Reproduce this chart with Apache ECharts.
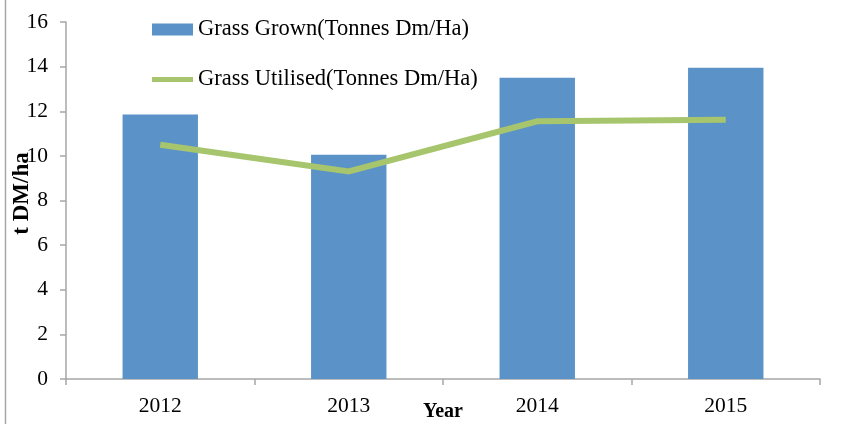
<!DOCTYPE html>
<html>
<head>
<meta charset="utf-8">
<script src="https://cdn.jsdelivr.net/npm/echarts@6/dist/echarts.min.js"></script>
<style>
  html, body { margin: 0; padding: 0; background: #fff; }
  #chart { width: 846px; height: 424px; }
</style>
</head>
<body>
<div id="chart"></div>
<script>
// Yearly grass figures, tonnes of dry matter per hectare
const years = ['2012', '2013', '2014', '2015'];
const grassGrown = [11.85, 10.05, 13.5, 13.95];
const grassUtilised = [10.5, 9.3, 11.55, 11.62];
const yTicks = { min: 0, max: 16, interval: 2 };

const FONT = '"Liberation Serif", "Times New Roman", serif';
const BLUE = '#5b93c8';
const GREEN = '#a6c56c';
const GREY = '#a6a6a6';

const chart = echarts.init(document.getElementById('chart'));
chart.setOption({
  animation: false,
  backgroundColor: '#fff',
  grid: { left: 66, right: 26, top: 22, bottom: 45, containLabel: false, outerBoundsMode: 'none' },
  legend: [
    {
      data: ['Grass Grown(Tonnes Dm/Ha)'],
      left: 147, top: 13,
      icon: 'rect', itemWidth: 41, itemHeight: 12, itemGap: 6,
      textStyle: { fontFamily: FONT, fontSize: 22.5, color: '#000' }
    },
    {
      data: ['Grass Utilised(Tonnes Dm/Ha)'],
      left: 147, top: 63,
      icon: 'rect', itemWidth: 41, itemHeight: 5, itemGap: 6,
      textStyle: { fontFamily: FONT, fontSize: 22.5, color: '#000' }
    }
  ],
  graphic: [
    {
      type: 'line',
      shape: { x1: 5.5, y1: 0, x2: 5.5, y2: 424 },
      style: { stroke: GREY, lineWidth: 1.5 }
    }
  ],
  xAxis: {
    type: 'category',
    data: years,
    boundaryGap: true,
    name: 'Year',
    nameLocation: 'middle',
    nameGap: 23,
    nameMoveOverlap: false,
    nameTextStyle: { fontFamily: FONT, fontSize: 20, fontWeight: 'bold', color: '#000' },
    axisLine: { lineStyle: { color: GREY, width: 1.5 } },
    axisTick: { show: true, length: 6, alignWithLabel: false, lineStyle: { color: GREY, width: 1.5 } },
    axisLabel: { margin: 16, fontFamily: FONT, fontSize: 21.5, color: '#000' }
  },
  yAxis: {
    type: 'value',
    min: yTicks.min, max: yTicks.max, interval: yTicks.interval,
    name: 't DM/ha',
    nameLocation: 'middle',
    nameGap: 32,
    nameMoveOverlap: false,
    nameRotate: 90,
    nameTextStyle: { fontFamily: FONT, fontSize: 23, fontWeight: 'bold', color: '#000', padding: [0, 0, 0, 14] },
    axisLine: { show: true, lineStyle: { color: GREY, width: 1.5 } },
    axisTick: { show: true, inside: false, length: 6, lineStyle: { color: GREY, width: 1.5 } },
    splitLine: { show: false },
    axisLabel: { margin: 18, fontFamily: FONT, fontSize: 21.5, color: '#000' }
  },
  series: [
    {
      name: 'Grass Grown(Tonnes Dm/Ha)',
      type: 'bar',
      data: grassGrown,
      barWidth: '40%',
      itemStyle: { color: BLUE },
      z: 2
    },
    {
      name: 'Grass Utilised(Tonnes Dm/Ha)',
      type: 'line',
      data: grassUtilised,
      symbol: 'none',
      showSymbol: false,
      lineStyle: { color: GREEN, width: 6, cap: 'butt', join: 'miter' },
      itemStyle: { color: GREEN },
      z: 3
    }
  ]
});
</script>
</body>
</html>
